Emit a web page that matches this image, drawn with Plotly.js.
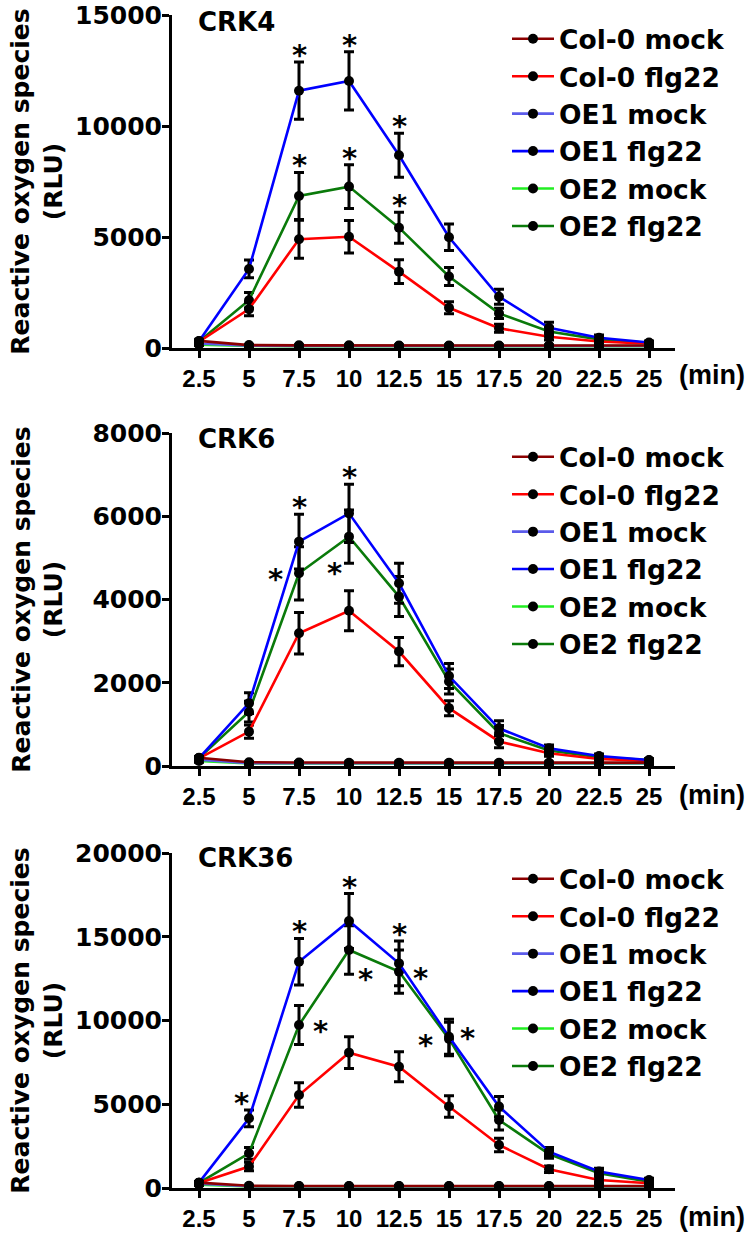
<!DOCTYPE html>
<html>
<head>
<meta charset="utf-8">
<script src="https://cdn.plot.ly/plotly-3.0.1.min.js"></script>
<style>html,body{margin:0;padding:0;background:#fff;}#chart{width:756px;height:1235px;}</style>
</head>
<body>
<div id="chart"></div>
<script>
// ---------- data ----------
const times = [2.5, 5, 7.5, 10, 12.5, 15, 17.5, 20, 22.5, 25];
const seriesNames = ['Col-0 mock', 'Col-0 flg22', 'OE1 mock', 'OE1 flg22', 'OE2 mock', 'OE2 flg22'];
const panelTitles = ['CRK4', 'CRK6', 'CRK36'];
const yMax = [15000, 8000, 20000];
const yTicks4 = [0, 5000, 10000, 15000];
const yTicks6 = [0, 2000, 4000, 6000, 8000];
const yTicks36 = [0, 5000, 10000, 15000, 20000];
const xTickLabels = ['2.5', '5', '7.5', '10', '12.5', '15', '17.5', '20', '22.5', '25'];

// CRK4
const col0Mock4 = [320, 130, 120, 120, 115, 115, 110, 110, 110, 110];
const col0Flg4  = [280, 1750, 4900, 5010, 3440, 1810, 890, 510, 290, 190];
const oe1Mock4  = [200, 100, 90, 90, 90, 90, 90, 90, 90, 90];
const oe1Flg4   = [300, 3560, 11590, 12030, 8680, 4990, 2310, 910, 460, 250];
const oe2Mock4  = [150, 90, 85, 85, 85, 85, 85, 85, 85, 85];
const oe2Flg4   = [290, 2150, 6850, 7270, 5420, 3220, 1560, 740, 390, 220];
const col0MockErr4 = [40, 20, 20, 20, 20, 20, 20, 20, 20, 20];
const col0FlgErr4  = [60, 300, 860, 730, 540, 270, 180, 150, 100, 60];
const oe1MockErr4  = [40, 20, 20, 20, 20, 20, 20, 20, 20, 20];
const oe1FlgErr4   = [60, 400, 1290, 1310, 990, 600, 340, 250, 120, 60];
const oe2MockErr4  = [40, 20, 20, 20, 20, 20, 20, 20, 20, 20];
const oe2FlgErr4   = [60, 350, 1060, 990, 700, 410, 230, 200, 100, 60];

// CRK6
const col0Mock6 = [200, 90, 85, 80, 80, 80, 80, 80, 80, 80];
const col0Flg6  = [185, 825, 3190, 3730, 2750, 1390, 590, 305, 170, 120];
const oe1Mock6  = [150, 70, 65, 65, 65, 65, 65, 65, 65, 65];
const oe1Flg6   = [190, 1510, 5390, 6070, 4390, 2160, 905, 425, 240, 145];
const oe2Mock6  = [120, 60, 60, 60, 60, 60, 60, 60, 60, 60];
const oe2Flg6   = [190, 1305, 4630, 5510, 4070, 2030, 790, 370, 210, 140];
const col0MockErr6 = [30, 15, 15, 15, 15, 15, 15, 15, 15, 15];
const col0FlgErr6  = [40, 160, 500, 480, 340, 180, 150, 70, 40, 30];
const oe1MockErr6  = [30, 15, 15, 15, 15, 15, 15, 15, 15, 15];
const oe1FlgErr6   = [40, 250, 660, 700, 480, 300, 180, 80, 50, 30];
const oe2MockErr6  = [30, 15, 15, 15, 15, 15, 15, 15, 15, 15];
const oe2FlgErr6   = [40, 250, 640, 640, 480, 300, 180, 80, 50, 30];

// CRK36
const col0Mock36 = [320, 130, 120, 120, 120, 120, 120, 120, 120, 120];
const col0Flg36  = [300, 1280, 5550, 8080, 7240, 4870, 2570, 1120, 480, 280];
const oe1Mock36  = [250, 100, 100, 100, 100, 100, 100, 100, 100, 100];
const oe1Flg36   = [320, 4160, 13510, 15940, 13410, 9030, 4860, 2170, 980, 480];
const oe2Mock36  = [200, 90, 90, 90, 90, 90, 90, 90, 90, 90];
const oe2Flg36   = [310, 2070, 9730, 14210, 12920, 8900, 4060, 2030, 880, 380];
const col0MockErr36 = [50, 30, 30, 30, 30, 30, 30, 30, 30, 30];
const col0FlgErr36  = [60, 250, 735, 945, 900, 640, 400, 200, 150, 80];
const oe1MockErr36  = [50, 30, 30, 30, 30, 30, 30, 30, 30, 30];
const oe1FlgErr36   = [60, 500, 1390, 1640, 1340, 1050, 600, 250, 200, 100];
const oe2MockErr36  = [50, 30, 30, 30, 30, 30, 30, 30, 30, 30];
const oe2FlgErr36   = [60, 350, 1160, 1450, 1290, 1000, 600, 250, 250, 100];

// significance stars: time, series, placement
const starTimes4  = [7.5, 10, 12.5, 7.5, 10, 12.5];
const starSeries4 = ['OE1 flg22', 'OE1 flg22', 'OE1 flg22', 'OE2 flg22', 'OE2 flg22', 'OE2 flg22'];
const starPlace4  = ['above', 'above', 'above', 'above', 'above', 'above'];
const starTimes6  = [7.5, 10, 7.5, 10];
const starSeries6 = ['OE1 flg22', 'OE1 flg22', 'OE2 flg22', 'OE2 flg22'];
const starPlace6  = ['above', 'above', 'left', 'lowleft'];
const starTimes36  = [5, 7.5, 10, 12.5, 7.5, 10, 12.5, 15, 15];
const starSeries36 = ['OE1 flg22', 'OE1 flg22', 'OE1 flg22', 'OE1 flg22', 'OE2 flg22', 'OE2 flg22', 'OE2 flg22', 'OE2 flg22', 'OE1 flg22'];
const starPlace36  = ['upleft', 'above', 'above', 'above', 'right', 'lowright', 'right', 'left', 'upright'];

// ---------- styling ----------
const colors = {'Col-0 mock': '#8b0000', 'Col-0 flg22': '#ff0000', 'OE1 mock': '#5b5bea',
                'OE1 flg22': '#0000ff', 'OE2 mock': '#22ee22', 'OE2 flg22': '#0a7a0a'};
const drawOrder = ['OE2 flg22', 'Col-0 flg22', 'OE1 flg22', 'OE2 mock', 'OE1 mock', 'Col-0 mock'];
const placeOffsets = {above: [0, -13], left: [-24, 0], right: [21, 0], lowleft: [-15, 30],
                      lowright: [16, 23], upleft: [-8, -21], upright: [18, -5]};
const starGlyphShift = 6;
const wideFont = 'DejaVu Sans';
const narrowFont = 'Liberation Sans, Arial';

const panels = [
  {means: [col0Mock4, col0Flg4, oe1Mock4, oe1Flg4, oe2Mock4, oe2Flg4],
   errs: [col0MockErr4, col0FlgErr4, oe1MockErr4, oe1FlgErr4, oe2MockErr4, oe2FlgErr4],
   ticks: yTicks4, st: starTimes4, ss: starSeries4, sp: starPlace4},
  {means: [col0Mock6, col0Flg6, oe1Mock6, oe1Flg6, oe2Mock6, oe2Flg6],
   errs: [col0MockErr6, col0FlgErr6, oe1MockErr6, oe1FlgErr6, oe2MockErr6, oe2FlgErr6],
   ticks: yTicks6, st: starTimes6, ss: starSeries6, sp: starPlace6},
  {means: [col0Mock36, col0Flg36, oe1Mock36, oe1Flg36, oe2Mock36, oe2Flg36],
   errs: [col0MockErr36, col0FlgErr36, oe1MockErr36, oe1FlgErr36, oe2MockErr36, oe2FlgErr36],
   ticks: yTicks36, st: starTimes36, ss: starSeries36, sp: starPlace36}
];

const W = 756, H = 1235;
const margin = {l: 172, r: 81, t: 15, b: 47};
const plotW = W - margin.l - margin.r, plotH = H - margin.t - margin.b;
const panelPix = [[15, 348], [433, 766], [853, 1188]];   // top, bottom px of each plot area
const legendTopPix = [15, 433, 855];
const titleMidPix = [22, 439, 858];
const minMidPix = [375, 795, 1217];
const titleStandoff = [6, 23, 6];
const py = p => 1 - (p - margin.t) / plotH;
const px = p => (p - margin.l) / plotW;

const traces = [];
const annotations = [];
const layout = {
  width: W, height: H, margin: margin, showlegend: true,
  paper_bgcolor: '#fff', plot_bgcolor: '#fff',
  font: {family: wideFont, color: '#000'},
  annotations: annotations
};

panels.forEach((pan, k) => {
  const sfx = k === 0 ? '' : String(k + 1);
  const xa = 'x' + sfx, ya = 'y' + sfx;
  const legName = 'legend' + sfx;
  drawOrder.forEach(name => {
    const i = seriesNames.indexOf(name);
    traces.push({
      type: 'scatter', mode: 'lines+markers', name: name,
      x: times, y: pan.means[i], xaxis: xa, yaxis: ya, legend: legName,
      legendrank: i + 1, cliponaxis: false,
      line: {color: colors[name], width: 2.6},
      marker: {color: '#000', size: 10},
      error_y: {type: 'data', array: pan.errs[i], visible: true, color: '#000', thickness: 3, width: 5}
    });
  });
  layout['xaxis' + sfx] = {
    anchor: ya, domain: [0, 1], range: [1.15, 26.3],
    tickmode: 'array', tickvals: times, ticktext: xTickLabels,
    showline: true, linewidth: 3, linecolor: '#000', ticks: 'outside', ticklen: 7, tickwidth: 3,
    tickcolor: '#000', showgrid: false, zeroline: false,
    tickfont: {family: narrowFont, size: 24, weight: 'bold', color: '#000'}
  };
  layout['yaxis' + sfx] = {
    anchor: xa, domain: [py(panelPix[k][1]), py(panelPix[k][0])], range: [0, yMax[k]],
    tickmode: 'array', tickvals: pan.ticks, ticktext: pan.ticks.map(v => String(v)),
    showline: true, linewidth: 3, linecolor: '#000', ticks: 'outside', ticklen: 7, tickwidth: 3,
    tickcolor: '#000', showgrid: false, zeroline: false, ticklabelstandoff: -5,
    tickfont: {family: wideFont, size: 25, weight: 'bold', color: '#000'},
    title: {text: 'Reactive oxygen species<br>(RLU)', standoff: titleStandoff[k],
            font: {family: wideFont, size: 25, weight: 'bold', color: '#000'}}
  };
  layout[legName] = {
    x: px(507), y: py(legendTopPix[k]), xanchor: 'left', yanchor: 'top',
    bgcolor: 'rgba(0,0,0,0)', borderwidth: 0, traceorder: 'normal', itemwidth: 42,
    font: {family: wideFont, size: 26.5, weight: 'bold', color: '#000'}
  };
  annotations.push({
    xref: 'paper', yref: 'paper', x: px(196), y: py(titleMidPix[k]), xanchor: 'left', yanchor: 'middle',
    text: panelTitles[k], showarrow: false,
    font: {family: wideFont, size: 26, weight: 'bold', color: '#000'}
  });
  annotations.push({
    xref: 'paper', yref: 'paper', x: px(677), y: py(minMidPix[k]), xanchor: 'left', yanchor: 'middle',
    text: '(min)', showarrow: false,
    font: {family: narrowFont, size: 27, weight: 'bold', color: '#000'}
  });
  pan.st.forEach((t, j) => {
    const i = seriesNames.indexOf(pan.ss[j]);
    const ti = times.indexOf(t);
    const place = pan.sp[j];
    const yv = place === 'above' ? pan.means[i][ti] + pan.errs[i][ti] : pan.means[i][ti];
    const off = placeOffsets[place];
    annotations.push({
      xref: xa, yref: ya, x: t, y: yv, xanchor: 'center', yanchor: 'middle',
      text: '*', showarrow: false, xshift: off[0], yshift: -(off[1] + starGlyphShift),
      font: {family: wideFont, size: 29, weight: 'bold', color: '#000'}
    });
  });
});

Plotly.newPlot('chart', traces, layout, {displayModeBar: false, staticPlot: true});
</script>
</body>
</html>
